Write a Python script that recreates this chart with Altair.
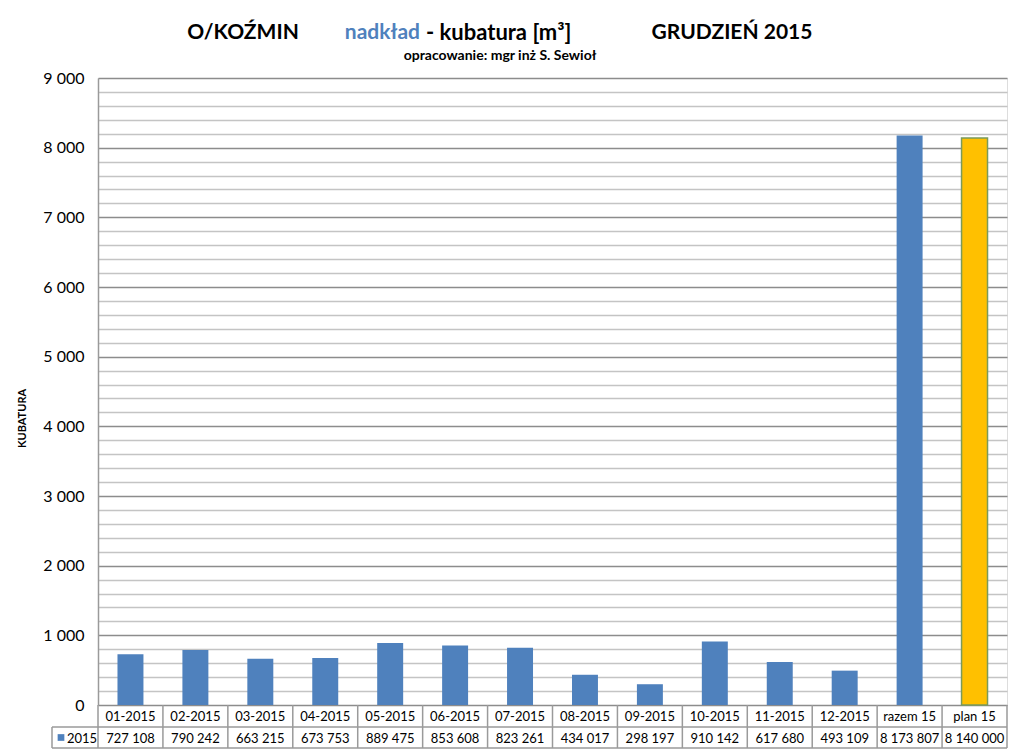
import altair as alt
import pandas as pd

categories = ["01-2015", "02-2015", "03-2015", "04-2015", "05-2015", "06-2015",
              "07-2015", "08-2015", "09-2015", "10-2015", "11-2015", "12-2015",
              "razem 15", "plan 15"]
values_m3 = [727108, 790242, 663215, 673753, 889475, 853608, 823261, 434017,
             298197, 910142, 617680, 493109, 8173807, 8140000]
kinds = ["fakt"] * 13 + ["plan"]
series_name = "2015"

FONT = "Lato"
W, H = 909, 627
ROW1, ROW2 = 649, 670
LEFT_CELL = -46
GRID = "#c4c4c4"
GRID_MAJOR = "#8c8c8c"
BORDER = "#9a9a9a"
TF = 13

df = pd.DataFrame({
    "cat": categories,
    "m3": values_m3,
    "kind": kinds,
    "label": [f"{v:,}".replace(",", " ") for v in values_m3],
})

xenc = alt.X("cat:N", sort=categories,
             scale=alt.Scale(paddingInner=0, paddingOuter=0), axis=None)

base = alt.Chart(df).transform_calculate(kub="datum.m3 / 1000")

yaxis = alt.Axis(
    values=list(range(0, 9001, 200)),
    tickCount=100,
    labelExpr="datum.value % 1000 === 0 ? replace(format(datum.value, ','), ',', ' ') : ''",
    labelOverlap=False,
    labelFont=FONT, labelFontSize=16, labelColor="#000000", labelPadding=14,
    ticks=False, domainColor=BORDER, domainWidth=1.5,
    grid=True,
    gridColor={"condition": {"test": "datum.value % 1000 === 0", "value": GRID_MAJOR}, "value": GRID},
    gridWidth=1.5,
    title="KUBATURA", titleFont=FONT, titleFontSize=11, titleFontWeight="bold",
    titleColor="#000000", titleAngle=270, titleX=-76, titleY=340,
    titleAlign="center", titleBaseline="middle",
)
yenc = alt.Y("kub:Q", scale=alt.Scale(domain=[0, 9000], nice=False), axis=yaxis)

bars = base.transform_filter("datum.kind == 'fakt'").mark_bar(
    width=alt.RelativeBandSize(0.4), color="#4F81BD"
).encode(x=xenc, y=yenc)

plan = base.transform_filter("datum.kind == 'plan'").mark_bar(
    width=alt.RelativeBandSize(0.4), color="#FFC000", stroke="#7a9a5a", strokeWidth=1.5
).encode(x=xenc, y="kub:Q")

# data table
cat_text = base.mark_text(font=FONT, fontSize=TF, color="#000000", baseline="middle").encode(
    x=alt.X("cat:N", sort=categories, axis=None), y=alt.value((H + ROW1) / 2 + 1), text="cat:N")
val_text = base.mark_text(font=FONT, fontSize=TF, color="#000000", baseline="middle").encode(
    x=alt.X("cat:N", sort=categories, axis=None), y=alt.value((ROW1 + ROW2) / 2 + 1), text="label:N")
vlines = base.mark_rule(color=BORDER, strokeWidth=1.5).encode(
    x=alt.X("cat:N", sort=categories, axis=None, bandPosition=0),
    y=alt.value(H), y2=alt.value(ROW2))

frame = alt.Chart(pd.DataFrame({"k": [0]}))
h1 = frame.mark_rule(color=BORDER, strokeWidth=1.5).encode(
    x=alt.value(LEFT_CELL), x2=alt.value(W), y=alt.value(ROW1))
h2 = frame.mark_rule(color=BORDER, strokeWidth=1.5).encode(
    x=alt.value(LEFT_CELL), x2=alt.value(W), y=alt.value(ROW2))
vr = frame.mark_rule(color=BORDER, strokeWidth=1.5).encode(
    x=alt.value(W), y=alt.value(H), y2=alt.value(ROW2))
vl = frame.mark_rule(color=BORDER, strokeWidth=1.5).encode(
    x=alt.value(LEFT_CELL), y=alt.value(ROW1), y2=alt.value(ROW2))
leg_sq = frame.mark_square(color="#4F81BD", opacity=1, size=45).encode(
    x=alt.value(LEFT_CELL + 9), y=alt.value((ROW1 + ROW2) / 2))
leg_tx = frame.mark_text(font=FONT, fontSize=TF, color="#000000", align="left",
                         baseline="middle").encode(
    x=alt.value(LEFT_CELL + 15), y=alt.value((ROW1 + ROW2) / 2 + 1), text=alt.value(series_name))

# titles
TS = 21
t1 = frame.mark_text(font=FONT, fontSize=TS, fontWeight="bold", color="#000000",
                     baseline="middle").encode(x=alt.value(145), y=alt.value(-45),
                                               text=alt.value("O/KOŹMIN"))
t2a = frame.mark_text(font=FONT, fontSize=TS, fontWeight="bold", color="#4F81BD",
                      align="right", baseline="middle").encode(
    x=alt.value(322), y=alt.value(-45), text=alt.value("nadkład"))
t2b = frame.mark_text(font=FONT, fontSize=TS + 1, fontWeight="bold", color="#000000",
                      align="left", baseline="middle", dx=6).encode(
    x=alt.value(322), y=alt.value(-45), text=alt.value("- kubatura [m³]"))
t3 = frame.mark_text(font=FONT, fontSize=TS, fontWeight="bold", color="#000000",
                     baseline="middle").encode(x=alt.value(634), y=alt.value(-45),
                                               text=alt.value("GRUDZIEŃ 2015"))
t4 = frame.mark_text(font=FONT, fontSize=14, fontWeight="bold", color="#000000",
                     baseline="middle").encode(x=alt.value(402), y=alt.value(-22),
                                               text=alt.value("opracowanie:  mgr inż S. Sewioł"))

chart = alt.layer(
    bars, plan, vlines, h1, h2, vr, vl, cat_text, val_text, leg_sq, leg_tx,
    t1, t2a, t2b, t3, t4
).properties(
    width=W, height=H,
    autosize=alt.AutoSizeParams(type="none"),
    padding={"left": 90, "top": 70, "right": 9, "bottom": 46},
).configure_view(stroke=None).configure(background="#ffffff")

chart.save("out.html", embed_options={"renderer": "svg", "actions": False})
